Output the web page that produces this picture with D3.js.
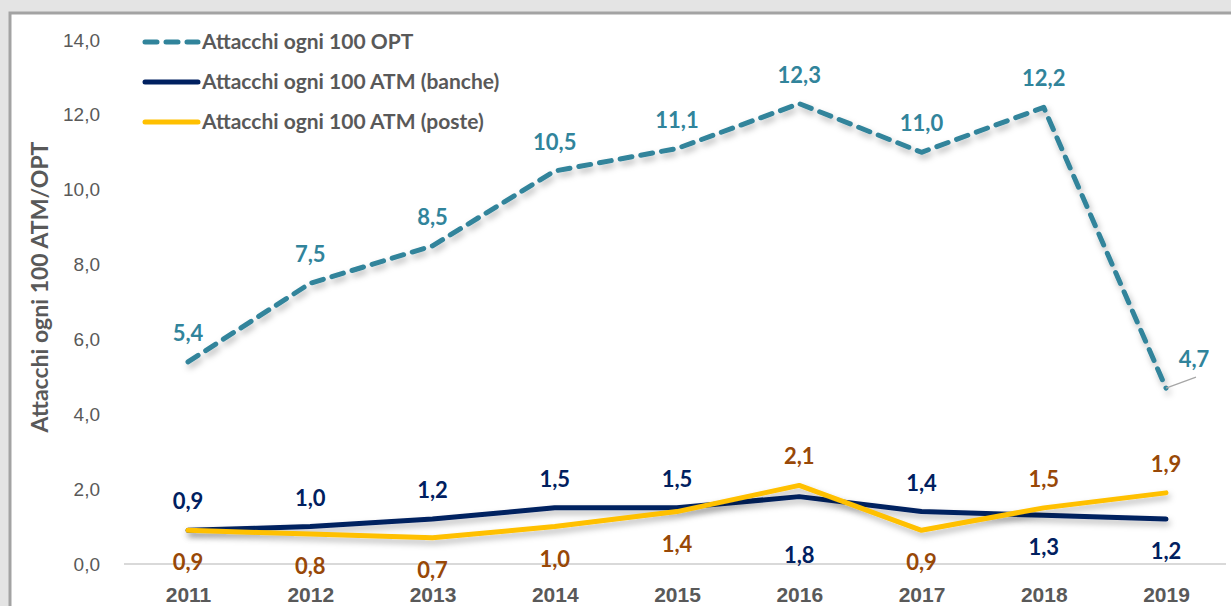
<!DOCTYPE html>
<html>
<head>
<meta charset="utf-8">
<script src="https://cdn.jsdelivr.net/npm/d3@7"></script>
<style>
  html, body { margin: 0; padding: 0; background: #fff; }
  svg { display: block; font-family: Lato, "Open Sans", sans-serif; }
</style>
</head>
<body>
<div id="chart"></div>
<script>
const years = ['2011', '2012', '2013', '2014', '2015', '2016', '2017', '2018', '2019'];
const opt = [5.4, 7.5, 8.5, 10.5, 11.1, 12.3, 11.0, 12.2, 4.7];
const banche = [0.9, 1.0, 1.2, 1.5, 1.5, 1.8, 1.4, 1.3, 1.2];
const poste = [0.9, 0.8, 0.7, 1.0, 1.4, 2.1, 0.9, 1.5, 1.9];
const yTicks = [0, 2, 4, 6, 8, 10, 12, 14];

// where each data label sits relative to its point
const optPlace = ['up', 'up', 'up', 'up', 'up', 'up', 'up', 'up', 'right'];
const banchePlace = ['up', 'up', 'up', 'up', 'up', 'down2', 'up', 'down', 'down'];
const postePlace = ['down', 'down', 'down', 'down', 'down', 'up', 'down', 'up', 'up'];

const width = 1231;
const height = 606;
const fmt = (v) => d3.format('.1f')(v).replace('.', ',');

const svg = d3.select('#chart')
  .append('svg')
  .attr('width', width)
  .attr('height', height);

const defs = svg.append('defs');
defs.append('filter').attr('id', 'shadow')
  .attr('x', '-10%').attr('y', '-50%').attr('width', '120%').attr('height', '200%')
  .append('feDropShadow')
  .attr('dx', 2).attr('dy', 4).attr('stdDeviation', 3)
  .attr('flood-color', '#000').attr('flood-opacity', 0.28);

// frame around the chart area
svg.append('rect').attr('width', width).attr('height', height).attr('fill', '#e4e4e4');
svg.append('rect')
  .attr('x', 10).attr('y', 13).attr('width', width).attr('height', height)
  .attr('fill', '#fff')
  .attr('stroke', '#a3a3a3').attr('stroke-width', 3);

const x = d3.scalePoint().domain(years).range([188, 1166]);
const y = d3.scaleLinear().domain([0, 14]).range([564, 40]);

// y axis labels
const yAxis = svg.append('g')
  .attr('transform', 'translate(112,0)')
  .call(d3.axisLeft(y).tickValues(yTicks).tickFormat(fmt).tickSize(0).tickPadding(12));
yAxis.select('.domain').remove();
yAxis.selectAll('text')
  .attr('fill', '#595959')
  .style('font-size', '19px');

// zero baseline
svg.append('line')
  .attr('x1', 124).attr('x2', 1226)
  .attr('y1', y(0)).attr('y2', y(0))
  .attr('stroke', '#d9d9d9').attr('stroke-width', 2);

// x axis labels
const xAxis = svg.append('g')
  .attr('transform', `translate(0,${y(0)})`)
  .call(d3.axisBottom(x).tickSize(0).tickPadding(23));
xAxis.select('.domain').remove();
xAxis.selectAll('text')
  .attr('fill', '#595959')
  .style('font-size', '21px')
  .style('font-weight', 'bold');

// y title
svg.append('text')
  .attr('transform', `translate(48,${y(7.4)}) rotate(-90)`)
  .attr('text-anchor', 'middle')
  .attr('fill', '#595959')
  .style('font-size', '23px')
  .style('font-weight', 'bold')
  .text('Attacchi ogni 100 ATM/OPT');

const line = d3.line()
  .x((d, i) => x(years[i]))
  .y((d) => y(d));

const series = [
  { name: 'Attacchi ogni 100 OPT', values: opt, place: optPlace, color: '#31849b', label: '#31849b', dash: '12,9' },
  { name: 'Attacchi ogni 100 ATM (banche)', values: banche, place: banchePlace, color: '#002060', label: '#002060', dash: null },
  { name: 'Attacchi ogni 100 ATM (poste)', values: poste, place: postePlace, color: '#ffc000', label: '#984807', dash: null },
];

series.forEach((s) => {
  svg.append('path')
    .datum(s.values)
    .attr('d', line)
    .attr('fill', 'none')
    .attr('stroke', s.color)
    .attr('stroke-width', 5)
    .attr('stroke-linejoin', 'round')
    .attr('stroke-linecap', 'round')
    .attr('stroke-dasharray', s.dash)
    .attr('filter', 'url(#shadow)');
});

// data labels
series.forEach((s) => {
  const g = svg.append('g');
  s.values.forEach((v, i) => {
    const px = x(years[i]);
    const py = y(v);
    let lx = px;
    let ly = py - 21;
    if (s.place[i] === 'down') ly = py + 40;
    if (s.place[i] === 'down2') ly = py + 66;
    if (s.place[i] === 'right') {
      lx = px + 28;
      ly = py - 21;
      g.append('line')
        .attr('x1', px).attr('y1', py)
        .attr('x2', px + 30).attr('y2', py - 11)
        .attr('stroke', '#a6a6a6').attr('stroke-width', 1.2);
    }
    g.append('text')
      .attr('x', lx).attr('y', ly)
      .attr('text-anchor', 'middle')
      .attr('fill', s.label)
      .style('font-size', '22px')
      .style('font-weight', 'bold')
      .text(fmt(v));
  });
});

// legend
const legend = svg.append('g');
series.forEach((s, i) => {
  const ly = 42 + i * 40;
  legend.append('line')
    .attr('x1', 145).attr('x2', 198)
    .attr('y1', ly).attr('y2', ly)
    .attr('stroke', s.color)
    .attr('stroke-width', 5)
    .attr('stroke-linecap', 'round')
    .attr('stroke-dasharray', s.dash);
  legend.append('text')
    .attr('x', 202).attr('y', ly + 7)
    .attr('fill', '#595959')
    .style('font-size', '21px')
    .style('font-weight', 'bold')
    .text(s.name);
});
</script>
</body>
</html>
